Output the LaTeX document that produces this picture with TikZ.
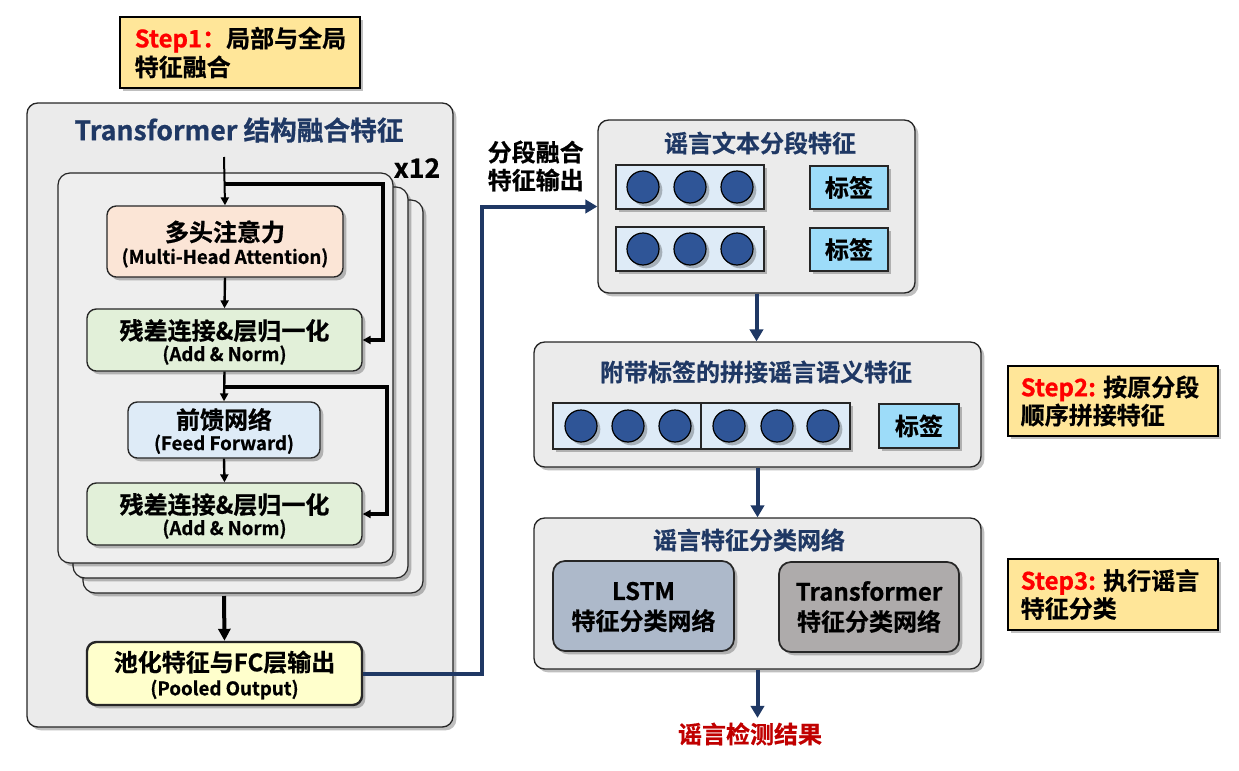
\documentclass[tikz,border=0pt]{standalone}
\usepackage{fontspec}
\setmainfont{Noto Sans CJK SC}[BoldFont={Noto Sans CJK SC Bold},BoldFeatures={FakeBold=0.7}]
\usetikzlibrary{shadows,fit,arrows.meta}
\definecolor{bggray}{HTML}{EBEBEB}
\definecolor{cardgray}{HTML}{EEEEEE}
\definecolor{mhafill}{HTML}{FBE5D6}
\definecolor{anfill}{HTML}{E2F0D9}
\definecolor{fffill}{HTML}{DEEBF7}
\definecolor{poolfill}{HTML}{FFFFCC}
\definecolor{stepfill}{HTML}{FFE699}
\definecolor{navy}{HTML}{1F3864}
\definecolor{dotblue}{HTML}{2F5597}
\definecolor{tagfill}{HTML}{9DDCF9}
\definecolor{lstmfill}{HTML}{ADB9CA}
\definecolor{trfill}{HTML}{AEABAB}
\definecolor{stepred}{HTML}{FF0000}
\definecolor{resred}{HTML}{C00000}
\definecolor{lineclr}{HTML}{262626}
\newcommand{\smtxt}[1]{{\fontsize{14}{17}\selectfont #1}}
\begin{document}
\begin{tikzpicture}[x=0.75pt,y=-0.75pt,
  font=\bfseries\fontsize{18}{22}\selectfont,
  shad/.style={drop shadow={shadow xshift=2.5pt,shadow yshift=-2.5pt,opacity=0.25,fill=black}},
  panel/.style={draw=lineclr,line width=1pt,fill=bggray,rounded corners=8pt,shad,inner sep=0pt},
  card/.style={draw=lineclr,line width=0.9pt,fill=cardgray,rounded corners=9pt,shad,inner sep=0pt},
  box/.style={draw=lineclr,line width=1pt,rounded corners=7pt,shad,inner sep=0pt},
  lbl/.style={align=center,inner sep=0pt},
  stepbox/.style={draw=black,line width=2pt,fill=stepfill,shad,inner sep=0pt},
  feat/.style={draw=lineclr,line width=1.1pt,fill=fffill,shad,inner sep=0pt},
  dot/.style={circle,draw=black,line width=0.9pt,fill=dotblue,minimum size=24pt,inner sep=0pt,shad},
  tagbox/.style={draw=lineclr,line width=1.1pt,fill=tagfill,shad,inner sep=0pt},
  arr/.style={-{Triangle[length=6pt,width=6pt]},line width=1.8pt,black},
  looparr/.style={-{Triangle[length=6pt,width=6pt]},line width=2.3pt,black},
  thickarr/.style={-{Triangle[length=9pt,width=9pt]},line width=3pt,black},
  barr/.style={-{Triangle[length=9pt,width=10pt]},line width=3pt,navy},
  ttl/.style={text=navy}
]
\useasboundingbox (0,0) rectangle (1239,771);

% Step 1
\node[stepbox,fit={(120,17)(360,88)}] (s1) {};
\node[anchor=west,align=left,font=\bfseries\fontsize{18}{21.5}\selectfont] (s1t) at (130,52.5)
  {{\color{stepred}Step1：}局部与全局\\特征融合};

% Left outer panel
\node[panel,fit={(27,103)(453,727)}] (outer) {};
\node[ttl,font=\bfseries\fontsize{20}{24}\selectfont] (ttl) at (239,130) {Transformer 结构融合特征};
\node[card,fit={(83,200)(423,593)}] (card3) {};
\node[card,fit={(73,187)(408,578)}] (card2) {};
\node[card,fit={(58,173)(393,563)}] (card1) {};
\node[font=\bfseries\fontsize{20}{24}\selectfont] (x12) at (417,168) {x12};

\node[box,fill=mhafill,fit={(107,206)(343,277)}] (mha) {};
\node[lbl] (mhat) at (225,244) {多头注意力\\[-5pt]\smtxt{(Multi-Head Attention)}};
\node[box,fill=anfill,fit={(87,309)(362,371)}] (an1) {};
\node[lbl] (an1t) at (224.5,342) {残差连接\&层归一化\\[-6pt]\smtxt{(Add \& Norm)}};
\node[box,fill=fffill,fit={(128,402)(320,458)}] (ff) {};
\node[lbl] (fft) at (224,431) {前馈网络\\[-6pt]\smtxt{(Feed Forward)}};
\node[box,fill=anfill,fit={(87,483)(362,545)}] (an2) {};
\node[lbl] (an2t) at (224.5,516) {残差连接\&层归一化\\[-6pt]\smtxt{(Add \& Norm)}};
\node[box,fill=poolfill,line width=1.8pt,fit={(87,642)(362,705)}] (pool) {};
\node[lbl] (poolt) at (224.5,675) {池化特征与FC层输出\\[-4pt]\smtxt{(Pooled Output)}};

\coordinate (in) at (224,157);
\coordinate (sk1) at (224,184);
\coordinate (sk2) at (224,387);
\coordinate (stackout) at (224,596);

% output label
\node[anchor=west,align=left,font=\bfseries\fontsize{18}{21}\selectfont] (outlbl) at (483,166) {分段融合\\特征输出};

% Panel 1
\node[panel,fit={(598,120)(915,293)}] (p1) {};
\node[ttl] (p1t) at (760,143) {谣言文本分段特征};
\node[feat,fit={(616,165)(764,209)}] (r1) {};
\node[feat,fit={(616,227)(764,271)}] (r2) {};
\foreach \x [count=\i] in {643,690,737} {
  \node[dot] (r1d\i) at (\x,187) {};
  \node[dot] (r2d\i) at (\x,249) {};
}
\node[tagbox,fit={(810,166)(888,209)}] (t1) {};
\node[lbl] (t1t) at (849,187.5) {标签};
\node[tagbox,fit={(810,228)(888,271)}] (t2) {};
\node[lbl] (t2t) at (849,249.5) {标签};

% Panel 2
\node[panel,fit={(534,342)(981,467)}] (p2) {};
\node[ttl] (p2t) at (756,372) {附带标签的拼接谣言语义特征};
\node[feat,fit={(553,403)(701,449)}] (f2a) {};
\node[feat,fit={(701,403)(850,449)}] (f2b) {};
\foreach \x [count=\i] in {581,628,675,729,777,823} {
  \node[dot] (f2d\i) at (\x,426) {};
}
\node[tagbox,fit={(879,404)(959,448)}] (t3) {};
\node[lbl] (t3t) at (919,426) {标签};

% Panel 3
\node[panel,fit={(534,518)(981,669)}] (p3) {};
\node[ttl] (p3t) at (749,540) {谣言特征分类网络};
\node[box,fill=lstmfill,line width=1.3pt,rounded corners=9pt,fit={(553,561)(734,651)}] (lstm) {};
\node[lbl,font=\bfseries\fontsize{18}{22.5}\selectfont] (lstmt) at (643.5,607) {LSTM\\特征分类网络};
\node[box,fill=trfill,line width=1.3pt,rounded corners=9pt,fit={(779,562)(959,652)}] (trn) {};
\node[lbl,font=\bfseries\fontsize{18}{22.5}\selectfont] (trnt) at (869,607) {Transformer\\特征分类网络};

\node[text=resred] (res) at (750,734) {谣言检测结果};

% Step 2 and 3
\node[stepbox,fit={(1008,366)(1218,436)}] (s2) {};
\node[anchor=west,align=left,font=\bfseries\fontsize{18}{21}\selectfont] (s2t) at (1016,401)
  {{\color{stepred}Step2:} 按原分段\\顺序拼接特征};
\node[stepbox,fit={(1008,559)(1218,630)}] (s3) {};
\node[anchor=west,align=left,font=\bfseries\fontsize{18}{21}\selectfont] (s3t) at (1016,594.5)
  {{\color{stepred}Step3:} 执行谣言\\特征分类};

% connectors
\draw[arr,line width=1.5pt] (in) -- (mha.north);
\draw[arr] (mha.south) -- (an1.north);
\draw[arr] (an1.south) -- (ff.north);
\draw[arr] (ff.south) -- (an2.north);
\draw[looparr] (sk1) -- ++(159,0) |- (an1.east);
\draw[looparr] (sk2) -- ++(163,0) |- (an2.east);
\draw[thickarr] (stackout) -- (pool.north);
\draw[barr] (pool.east) -- ++(119,0) |- (p1.west);
\draw[barr] (p1.south) -- (p1.south |- p2.north);
\draw[barr] (p2.south) -- (p2.south |- p3.north);
\draw[barr] (p3.south) -- (p3.south |- res.north);
\end{tikzpicture}
\end{document}
